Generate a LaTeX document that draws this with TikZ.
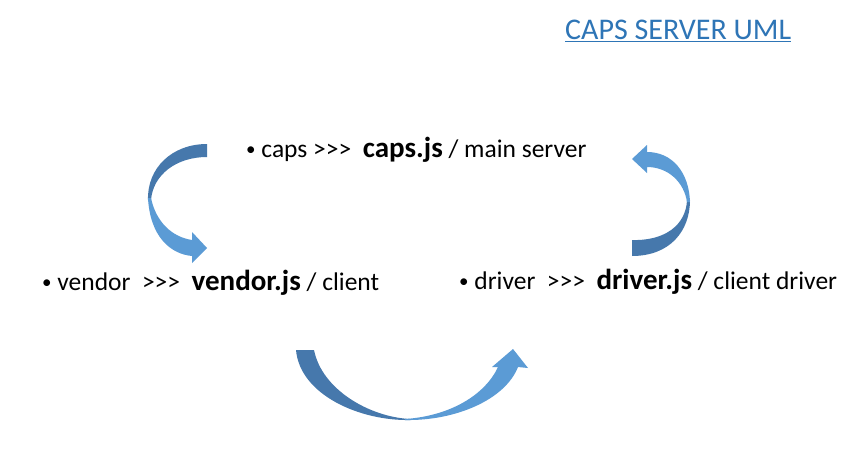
\documentclass[tikz,border=0pt]{standalone}
\usepackage{fontspec}
\setmainfont{Carlito}
\definecolor{arrdark}{RGB}{70,120,172}
\definecolor{arrlight}{RGB}{91,155,213}
\definecolor{titleblue}{RGB}{46,117,182}
\newcommand{\gtr}{>{}>{}>}
\newcommand{\bul}{{\fontsize{19}{20}\selectfont\raisebox{1.5pt}{\textbullet}}}
\tikzset{
  item/.style={anchor=base west, inner sep=0pt, font=\fontsize{25.5}{30}\selectfont},
  dark/.style={fill=arrdark, draw=none},
  light/.style={fill=arrlight, draw=none}
}
\newcommand{\bjs}[1]{{\fontsize{29}{34}\selectfont\bfseries #1}}
\begin{document}
\begin{tikzpicture}[x=1pt,y=-1pt]
\useasboundingbox[fill=white] (0,0) rectangle (861,460);
% title
\node[anchor=base west, inner sep=0pt, text=titleblue, font=\fontsize{30}{36}\selectfont] (title) at (565,40) {\underline{CAPS SERVER UML}};
% items
\node[item] (caps) at (246,157) {\bul\ caps \gtr\ \ \bjs{caps.js} / main server};
\node[item] (vendor) at (42,290) {\bul\ vendor\ \ \gtr\ \ \bjs{vendor.js} / client};
\node[item] (driver) at (459,289) {\bul\ driver\ \ \gtr\ \ \bjs{driver.js} / client driver};
% left curved arrow (caps -> vendor)
\fill[dark] (207,144) -- (207,157) .. controls (176,157) and (153,175) .. (151,200)
  -- (148,200) .. controls (147,168) and (172,144) .. (207,144) -- cycle;
\fill[light] (148,198) .. controls (150,236) and (170,254) .. (192,256) -- (192,263) -- (207,248)
  -- (192,232) -- (192,240) .. controls (172,237) and (156,222) .. (151,198) -- cycle;
% right curved arrow (driver -> caps)
\fill[dark] (632,256) -- (632,240) .. controls (665,241) and (686,225) .. (687,200)
  -- (690,200) .. controls (690,231) and (670,256) .. (632,256) -- cycle;
\fill[light] (690,202) .. controls (689,172) and (672,152) .. (647,152) -- (647,145) -- (632,159)
  -- (647,173) -- (647,167) .. controls (668,167) and (684,182) .. (687,202) -- cycle;
% bottom curved arrow (vendor -> driver)
\fill[dark] (296,350) -- (314,350) .. controls (322,390) and (370,417) .. (410,419)
  -- (410,420) .. controls (360,421) and (300,395) .. (296,350) -- cycle;
\fill[light] (405,420) .. controls (455,421) and (505,400) .. (518,367) -- (528,368) -- (513,349)
  -- (492,367) -- (498,367) .. controls (485,395) and (450,416) .. (405,419) -- cycle;
\end{tikzpicture}
\end{document}
